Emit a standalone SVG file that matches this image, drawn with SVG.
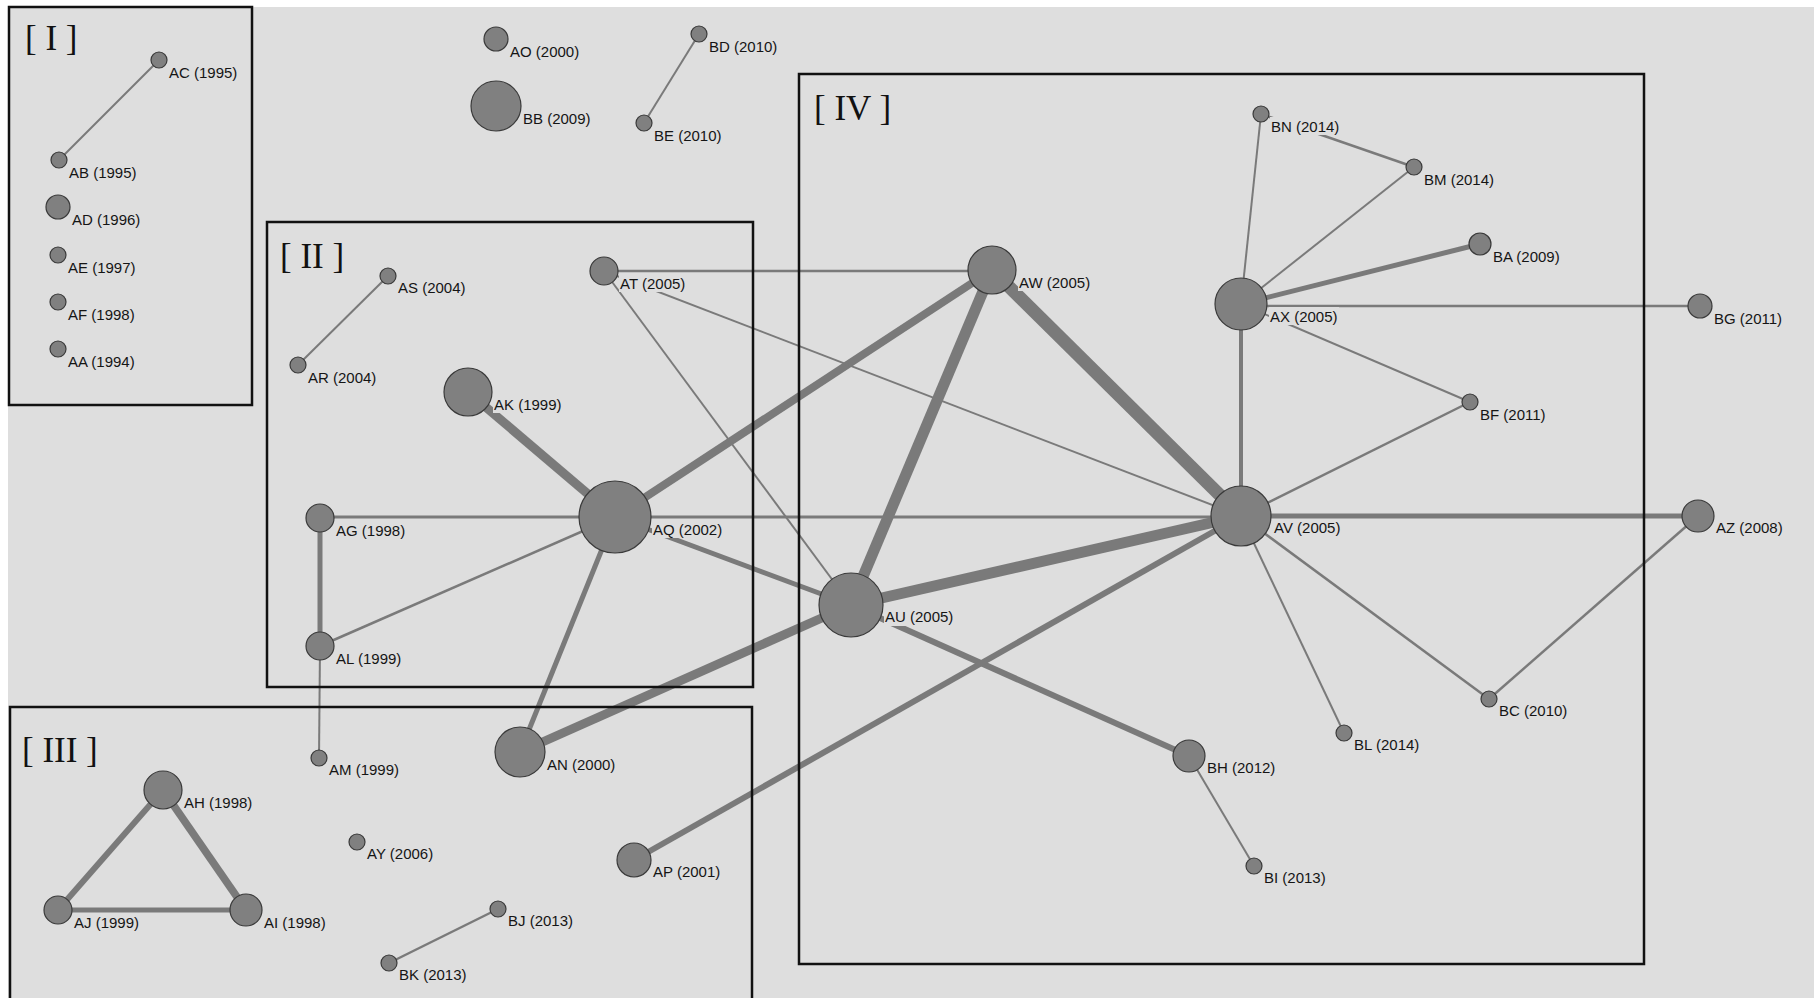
<svg xmlns="http://www.w3.org/2000/svg" width="1814" height="998" viewBox="0 0 1814 998">
<style>
.bg{fill:#dedede}
.e{stroke:#7a7a7a;stroke-linecap:butt;fill:none}
.n{fill:#808080;stroke:#3a3a3a;stroke-width:1.2}
.lb{fill:#dedede}
.t{font-family:"Liberation Sans",Arial,sans-serif;font-size:15px;fill:#151515}
.box{fill:none;stroke:#111;stroke-width:2.5}
.r{font-family:"Liberation Serif","Times New Roman",serif;font-size:35px;fill:#111}
</style>
<rect width="1814" height="998" fill="#ffffff"/>
<rect class="bg" x="8" y="7" width="1806" height="991"/>
<g id="connectors">
<line class="e" stroke-width="2" x1="159" y1="60" x2="59" y2="160"/>
<line class="e" stroke-width="2" x1="388" y1="276" x2="298" y2="365"/>
<line class="e" stroke-width="2" x1="699" y1="34" x2="644" y2="123"/>
<line class="e" stroke-width="2.5" x1="498" y1="909" x2="389" y2="963"/>
<line class="e" stroke-width="6" x1="163" y1="790" x2="58" y2="910"/>
<line class="e" stroke-width="7.5" x1="163" y1="790" x2="246" y2="910"/>
<line class="e" stroke-width="5" x1="58" y1="910" x2="246" y2="910"/>
<line class="e" stroke-width="5" x1="320" y1="518" x2="320" y2="646"/>
<line class="e" stroke-width="2" x1="320" y1="646" x2="319" y2="758"/>
<line class="e" stroke-width="3" x1="320" y1="517" x2="615" y2="517"/>
<line class="e" stroke-width="2.5" x1="320" y1="646" x2="615" y2="517"/>
<line class="e" stroke-width="9" x1="468" y1="392" x2="615" y2="517"/>
<line class="e" stroke-width="8" x1="615" y1="517" x2="992" y2="270"/>
<line class="e" stroke-width="5" x1="615" y1="517" x2="520" y2="752"/>
<line class="e" stroke-width="3" x1="615" y1="517" x2="1241" y2="517"/>
<line class="e" stroke-width="5" x1="615" y1="517" x2="851" y2="605"/>
<line class="e" stroke-width="2.5" x1="604" y1="271" x2="992" y2="271"/>
<line class="e" stroke-width="2" x1="604" y1="271" x2="1241" y2="516"/>
<line class="e" stroke-width="2" x1="604" y1="271" x2="851" y2="605"/>
<line class="e" stroke-width="9" x1="520" y1="752" x2="851" y2="605"/>
<line class="e" stroke-width="11" x1="851" y1="605" x2="992" y2="270"/>
<line class="e" stroke-width="11" x1="851" y1="605" x2="1241" y2="516"/>
<line class="e" stroke-width="6" x1="851" y1="605" x2="1189" y2="756"/>
<line class="e" stroke-width="13" x1="992" y1="270" x2="1241" y2="516"/>
<line class="e" stroke-width="6" x1="634" y1="860" x2="1241" y2="516"/>
<line class="e" stroke-width="4" x1="1241" y1="304" x2="1241" y2="516"/>
<line class="e" stroke-width="2" x1="1241" y1="304" x2="1261" y2="114"/>
<line class="e" stroke-width="2" x1="1241" y1="304" x2="1414" y2="167"/>
<line class="e" stroke-width="5" x1="1241" y1="304" x2="1480" y2="244"/>
<line class="e" stroke-width="2.5" x1="1241" y1="306" x2="1700" y2="306"/>
<line class="e" stroke-width="2" x1="1241" y1="304" x2="1470" y2="402"/>
<line class="e" stroke-width="2.5" x1="1241" y1="516" x2="1470" y2="402"/>
<line class="e" stroke-width="5" x1="1241" y1="516" x2="1698" y2="516"/>
<line class="e" stroke-width="2" x1="1241" y1="516" x2="1344" y2="733"/>
<line class="e" stroke-width="2.5" x1="1241" y1="516" x2="1489" y2="699"/>
<line class="e" stroke-width="2.5" x1="1489" y1="699" x2="1698" y2="516"/>
<line class="e" stroke-width="2.5" x1="1261" y1="114" x2="1414" y2="167"/>
<line class="e" stroke-width="2" x1="1189" y1="756" x2="1254" y2="866"/>
</g>
<g id="boxes">
<rect class="box" x="9" y="7" width="243" height="398"/>
<rect class="box" x="267" y="222" width="486" height="465"/>
<rect class="box" x="10" y="707" width="742" height="300"/>
<rect class="box" x="799" y="74" width="845" height="890"/>
<text class="r" x="25" y="50">[ I ]</text>
<text class="r" x="280" y="268">[ II ]</text>
<text class="r" x="22" y="762">[ III ]</text>
<text class="r" x="814" y="120">[ IV ]</text>
</g>
<g id="AC"><circle class="n" cx="159" cy="60" r="8"/><rect class="lb" x="168" y="63" width="70" height="18"/><text class="t" x="169" y="78">AC (1995)</text></g>
<g id="AB"><circle class="n" cx="59" cy="160" r="8"/><rect class="lb" x="68" y="163" width="70" height="18"/><text class="t" x="69" y="178">AB (1995)</text></g>
<g id="AD"><circle class="n" cx="58" cy="207" r="12"/><rect class="lb" x="71" y="210" width="70" height="18"/><text class="t" x="72" y="225">AD (1996)</text></g>
<g id="AE"><circle class="n" cx="58" cy="255" r="8"/><rect class="lb" x="67" y="258" width="70" height="18"/><text class="t" x="68" y="273">AE (1997)</text></g>
<g id="AF"><circle class="n" cx="58" cy="302" r="8"/><rect class="lb" x="67" y="305" width="70" height="18"/><text class="t" x="68" y="320">AF (1998)</text></g>
<g id="AA"><circle class="n" cx="58" cy="349" r="8"/><rect class="lb" x="67" y="352" width="70" height="18"/><text class="t" x="68" y="367">AA (1994)</text></g>
<g id="AO"><circle class="n" cx="496" cy="39" r="12"/><rect class="lb" x="509" y="42" width="72" height="18"/><text class="t" x="510" y="57">AO (2000)</text></g>
<g id="BB"><circle class="n" cx="496" cy="106" r="25"/><rect class="lb" x="522" y="109" width="70" height="18"/><text class="t" x="523" y="124">BB (2009)</text></g>
<g id="BD"><circle class="n" cx="699" cy="34" r="8"/><rect class="lb" x="708" y="37" width="72" height="18"/><text class="t" x="709" y="52">BD (2010)</text></g>
<g id="BE"><circle class="n" cx="644" cy="123" r="8"/><rect class="lb" x="653" y="126" width="70" height="18"/><text class="t" x="654" y="141">BE (2010)</text></g>
<g id="AS"><circle class="n" cx="388" cy="276" r="8"/><rect class="lb" x="397" y="279" width="70" height="18"/><text class="t" x="398" y="293">AS (2004)</text></g>
<g id="AR"><circle class="n" cx="298" cy="365" r="8"/><rect class="lb" x="307" y="368" width="70" height="18"/><text class="t" x="308" y="383">AR (2004)</text></g>
<g id="AK"><circle class="n" cx="468" cy="392" r="24"/><rect class="lb" x="493" y="395" width="70" height="18"/><text class="t" x="494" y="410">AK (1999)</text></g>
<g id="AT"><circle class="n" cx="604" cy="271" r="14"/><rect class="lb" x="619" y="274" width="70" height="18"/><text class="t" x="620" y="289">AT (2005)</text></g>
<g id="AQ"><circle class="n" cx="615" cy="517" r="36"/><rect class="lb" x="652" y="520" width="72" height="18"/><text class="t" x="653" y="535">AQ (2002)</text></g>
<g id="AG"><circle class="n" cx="320" cy="518" r="14"/><rect class="lb" x="335" y="521" width="72" height="18"/><text class="t" x="336" y="536">AG (1998)</text></g>
<g id="AL"><circle class="n" cx="320" cy="646" r="14"/><rect class="lb" x="335" y="649" width="70" height="18"/><text class="t" x="336" y="664">AL (1999)</text></g>
<g id="AM"><circle class="n" cx="319" cy="758" r="8"/><rect class="lb" x="328" y="761" width="72" height="18"/><text class="t" x="329" y="775">AM (1999)</text></g>
<g id="AN"><circle class="n" cx="520" cy="752" r="25"/><rect class="lb" x="546" y="755" width="72" height="18"/><text class="t" x="547" y="770">AN (2000)</text></g>
<g id="AH"><circle class="n" cx="163" cy="790" r="19"/><rect class="lb" x="183" y="793" width="72" height="18"/><text class="t" x="184" y="808">AH (1998)</text></g>
<g id="AJ"><circle class="n" cx="58" cy="910" r="14"/><rect class="lb" x="73" y="913" width="70" height="18"/><text class="t" x="74" y="928">AJ (1999)</text></g>
<g id="AI"><circle class="n" cx="246" cy="910" r="16"/><rect class="lb" x="263" y="913" width="66" height="18"/><text class="t" x="264" y="928">AI (1998)</text></g>
<g id="AY"><circle class="n" cx="357" cy="842" r="8"/><rect class="lb" x="366" y="845" width="70" height="18"/><text class="t" x="367" y="859">AY (2006)</text></g>
<g id="AP"><circle class="n" cx="634" cy="860" r="17"/><rect class="lb" x="652" y="863" width="70" height="18"/><text class="t" x="653" y="877">AP (2001)</text></g>
<g id="BJ"><circle class="n" cx="498" cy="909" r="8"/><rect class="lb" x="507" y="912" width="70" height="18"/><text class="t" x="508" y="926">BJ (2013)</text></g>
<g id="BK"><circle class="n" cx="389" cy="963" r="8"/><rect class="lb" x="398" y="966" width="70" height="18"/><text class="t" x="399" y="980">BK (2013)</text></g>
<g id="AW"><circle class="n" cx="992" cy="270" r="24"/><rect class="lb" x="1018" y="273" width="74" height="18"/><text class="t" x="1019" y="288">AW (2005)</text></g>
<g id="AX"><circle class="n" cx="1241" cy="304" r="26"/><rect class="lb" x="1269" y="307" width="70" height="18"/><text class="t" x="1270" y="322">AX (2005)</text></g>
<g id="BN"><circle class="n" cx="1261" cy="114" r="8"/><rect class="lb" x="1270" y="117" width="72" height="18"/><text class="t" x="1271" y="132">BN (2014)</text></g>
<g id="BM"><circle class="n" cx="1414" cy="167" r="8"/><rect class="lb" x="1423" y="170" width="72" height="18"/><text class="t" x="1424" y="185">BM (2014)</text></g>
<g id="BA"><circle class="n" cx="1480" cy="244" r="11"/><rect class="lb" x="1492" y="247" width="70" height="18"/><text class="t" x="1493" y="262">BA (2009)</text></g>
<g id="BG"><circle class="n" cx="1700" cy="306" r="12"/><rect class="lb" x="1713" y="309" width="72" height="18"/><text class="t" x="1714" y="324">BG (2011)</text></g>
<g id="BF"><circle class="n" cx="1470" cy="402" r="8"/><rect class="lb" x="1479" y="405" width="70" height="18"/><text class="t" x="1480" y="420">BF (2011)</text></g>
<g id="AV"><circle class="n" cx="1241" cy="516" r="30"/><rect class="lb" x="1273" y="519" width="70" height="18"/><text class="t" x="1274" y="533">AV (2005)</text></g>
<g id="AZ"><circle class="n" cx="1698" cy="516" r="16"/><rect class="lb" x="1715" y="519" width="70" height="18"/><text class="t" x="1716" y="533">AZ (2008)</text></g>
<g id="AU"><circle class="n" cx="851" cy="605" r="32"/><rect class="lb" x="884" y="608" width="72" height="18"/><text class="t" x="885" y="622">AU (2005)</text></g>
<g id="BH"><circle class="n" cx="1189" cy="756" r="16"/><rect class="lb" x="1206" y="759" width="72" height="18"/><text class="t" x="1207" y="773">BH (2012)</text></g>
<g id="BL"><circle class="n" cx="1344" cy="733" r="8"/><rect class="lb" x="1353" y="736" width="70" height="18"/><text class="t" x="1354" y="750">BL (2014)</text></g>
<g id="BC"><circle class="n" cx="1489" cy="699" r="8"/><rect class="lb" x="1498" y="702" width="72" height="18"/><text class="t" x="1499" y="716">BC (2010)</text></g>
<g id="BI"><circle class="n" cx="1254" cy="866" r="8"/><rect class="lb" x="1263" y="869" width="66" height="18"/><text class="t" x="1264" y="883">BI (2013)</text></g>
</svg>
